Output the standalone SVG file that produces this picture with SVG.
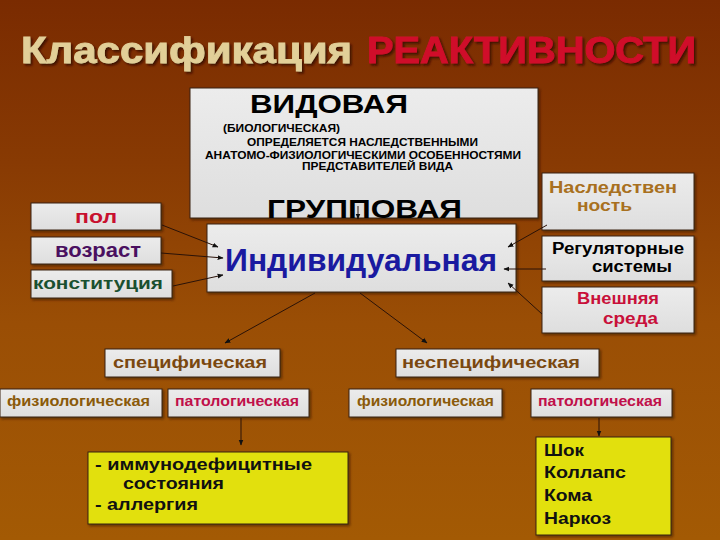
<svg xmlns="http://www.w3.org/2000/svg" width="720" height="540" viewBox="0 0 720 540">
<defs>
<linearGradient id="bg" x1="0" y1="0" x2="0" y2="1">
<stop offset="0" stop-color="#7a2b01"/>
<stop offset="0.3" stop-color="#883a03"/>
<stop offset="0.6" stop-color="#9a4e05"/>
<stop offset="1" stop-color="#a35a04"/>
</linearGradient>
<linearGradient id="boxg" x1="0" y1="0" x2="0" y2="1">
<stop offset="0" stop-color="#ececec"/>
<stop offset="1" stop-color="#dedede"/>
</linearGradient>
<filter id="sh" x="-5%" y="-20%" width="110%" height="150%">
<feDropShadow dx="2" dy="2" stdDeviation="0.8" flood-color="#3a1000" flood-opacity="0.9"/>
</filter>
<filter id="bsh" x="-5%" y="-10%" width="110%" height="130%">
<feDropShadow dx="1.5" dy="1.5" stdDeviation="1" flood-color="#2a1000" flood-opacity="0.6"/>
</filter>
<marker id="arr" viewBox="0 0 10 10" refX="9" refY="5" markerWidth="6" markerHeight="6" orient="auto" markerUnits="userSpaceOnUse">
<path d="M0,1 L10,5 L0,9 z" fill="#111"/>
</marker>
</defs>
<style>
text{font-family:"Liberation Sans",Arial,sans-serif;font-weight:bold;}
.box{fill:url(#boxg);stroke:#3a2210;stroke-width:1;filter:url(#bsh);}
.ybox{fill:#e2e010;stroke:#3a2210;stroke-width:1;filter:url(#bsh);}
.con line{stroke:#2a1208;stroke-width:1;marker-end:url(#arr);}
.cap{font-size:10px;fill:#000;}
.big{font-size:26px;fill:#000;}
.fz{font-size:14px;fill:#8a5a0a;}
.pt{font-size:14px;fill:#c0104a;}
.sp{font-size:17px;fill:#7a4810;}
.yt{font-size:17px;fill:#111;}
.ttl{font-size:37px;stroke-width:0.9;}
</style>
<rect x="0" y="0" width="720" height="540" fill="url(#bg)"/>

<g id="title" filter="url(#sh)">
<text class="ttl" x="21" y="63" fill="#e2cf98" stroke="#e2cf98" textLength="331" lengthAdjust="spacingAndGlyphs">Классификация</text>
<text class="ttl" x="367" y="63" fill="#d0102a" stroke="#d0102a" textLength="329" lengthAdjust="spacingAndGlyphs">РЕАКТИВНОСТИ</text>
</g>

<g id="vidovaya">
<rect class="box" x="190" y="88" width="348" height="130"/>
<text class="big" x="250" y="113" textLength="158" lengthAdjust="spacingAndGlyphs">ВИДОВАЯ</text>
<text class="cap" x="223" y="132" textLength="117" lengthAdjust="spacingAndGlyphs">(БИОЛОГИЧЕСКАЯ)</text>
<text class="cap" x="247" y="146" textLength="231" lengthAdjust="spacingAndGlyphs">ОПРЕДЕЛЯЕТСЯ НАСЛЕДСТВЕННЫМИ</text>
<text class="cap" x="205" y="158.5" textLength="316" lengthAdjust="spacingAndGlyphs">АНАТОМО-ФИЗИОЛОГИЧЕСКИМИ ОСОБЕННОСТЯМИ</text>
<text class="cap" x="302" y="170" textLength="151" lengthAdjust="spacingAndGlyphs">ПРЕДСТАВИТЕЛЕЙ ВИДА</text>
<text class="big" x="267" y="218" textLength="195" lengthAdjust="spacingAndGlyphs">ГРУППОВАЯ</text>
</g>

<g id="individ">
<rect class="box" x="207" y="224" width="309" height="68"/>
<text x="225" y="271" font-size="32" fill="#1a1aa0" textLength="272" lengthAdjust="spacingAndGlyphs">Индивидуальная</text>
</g>

<g id="pol">
<rect class="box" x="31" y="203" width="130" height="27"/>
<text x="75" y="223" font-size="19" fill="#c8102e" textLength="42" lengthAdjust="spacingAndGlyphs">пол</text>
</g>
<g id="vozrast">
<rect class="box" x="31" y="237" width="130" height="27"/>
<text x="55" y="257" font-size="21" fill="#4a1060" textLength="86" lengthAdjust="spacingAndGlyphs">возраст</text>
</g>
<g id="konst">
<rect class="box" x="31" y="270" width="141" height="28"/>
<text x="33" y="289" font-size="17" fill="#1a5030" textLength="130" lengthAdjust="spacingAndGlyphs">конституция</text>
</g>

<g id="nasl">
<rect class="box" x="542" y="173" width="152" height="57"/>
<text x="549" y="193" font-size="17" fill="#a87020" textLength="128" lengthAdjust="spacingAndGlyphs">Наследствен</text>
<text x="577" y="211" font-size="17" fill="#a87020" textLength="55" lengthAdjust="spacingAndGlyphs">ность</text>
</g>
<g id="regul">
<rect class="box" x="542" y="236" width="152" height="45"/>
<text x="552" y="254" font-size="16" fill="#000" textLength="132" lengthAdjust="spacingAndGlyphs">Регуляторные</text>
<text x="592" y="272" font-size="16" fill="#000" textLength="80" lengthAdjust="spacingAndGlyphs">системы</text>
</g>
<g id="vnesh">
<rect class="box" x="542" y="287" width="152" height="46"/>
<text x="577" y="304" font-size="17" fill="#c8103a" textLength="82" lengthAdjust="spacingAndGlyphs">Внешняя</text>
<text x="603" y="324" font-size="17" fill="#c8103a" textLength="55" lengthAdjust="spacingAndGlyphs">среда</text>
</g>

<g id="spec">
<rect class="box" x="105" y="349" width="175" height="28"/>
<text class="sp" x="113" y="368" textLength="154" lengthAdjust="spacingAndGlyphs">специфическая</text>
</g>
<g id="nespec">
<rect class="box" x="396" y="349" width="203" height="28"/>
<text class="sp" x="402" y="368" textLength="178" lengthAdjust="spacingAndGlyphs">неспецифическая</text>
</g>

<g id="fiz1">
<rect class="box" x="0" y="389" width="162" height="28"/>
<text class="fz" x="7" y="406" textLength="143" lengthAdjust="spacingAndGlyphs">физиологическая</text>
</g>
<g id="pat1">
<rect class="box" x="168" y="389" width="141" height="28"/>
<text class="pt" x="175" y="406" textLength="124" lengthAdjust="spacingAndGlyphs">патологическая</text>
</g>
<g id="fiz2">
<rect class="box" x="349" y="389" width="153" height="28"/>
<text class="fz" x="357" y="406" textLength="137" lengthAdjust="spacingAndGlyphs">физиологическая</text>
</g>
<g id="pat2">
<rect class="box" x="531" y="389" width="141" height="28"/>
<text class="pt" x="538" y="406" textLength="124" lengthAdjust="spacingAndGlyphs">патологическая</text>
</g>

<g id="immuno">
<rect class="ybox" x="88" y="452" width="260" height="72"/>
<text class="yt" x="95" y="470" textLength="217" lengthAdjust="spacingAndGlyphs">- иммунодефицитные</text>
<text class="yt" x="123" y="489" textLength="101" lengthAdjust="spacingAndGlyphs">состояния</text>
<text class="yt" x="95" y="510" textLength="103" lengthAdjust="spacingAndGlyphs">- аллергия</text>
</g>
<g id="shock">
<rect class="ybox" x="536" y="437" width="135" height="98"/>
<text class="yt" x="544" y="456" textLength="40" lengthAdjust="spacingAndGlyphs">Шок</text>
<text class="yt" x="544" y="478" textLength="82" lengthAdjust="spacingAndGlyphs">Коллапс</text>
<text class="yt" x="544" y="501" textLength="48" lengthAdjust="spacingAndGlyphs">Кома</text>
<text class="yt" x="544" y="524" textLength="67" lengthAdjust="spacingAndGlyphs">Наркоз</text>
</g>

<g id="connectors" class="con">
<line x1="358" y1="206" x2="358" y2="219"/>
<line x1="162" y1="225" x2="218" y2="247"/>
<line x1="161" y1="253" x2="223" y2="258"/>
<line x1="173" y1="286" x2="223" y2="275"/>
<line x1="547" y1="225" x2="508" y2="247"/>
<line x1="546" y1="269" x2="504" y2="269"/>
<line x1="542" y1="314" x2="508" y2="283"/>
<line x1="315" y1="293" x2="225" y2="343"/>
<line x1="360" y1="293" x2="427" y2="343"/>
<line x1="241" y1="418" x2="241" y2="445"/>
<line x1="599" y1="418" x2="599" y2="436"/>
</g>
</svg>
